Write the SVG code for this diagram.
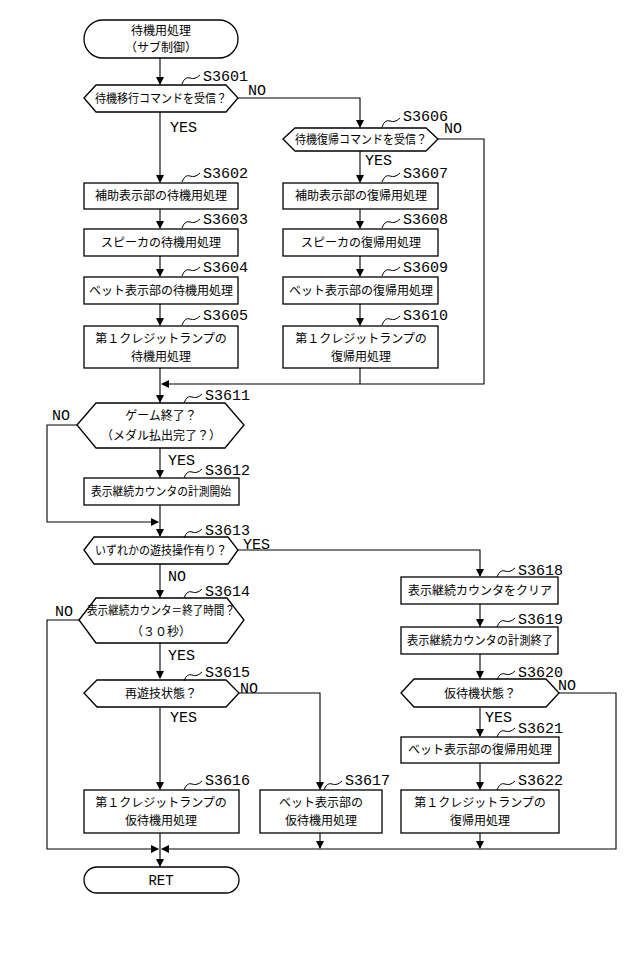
<svg xmlns="http://www.w3.org/2000/svg" width="638" height="969" viewBox="0 0 638 969">
<style>
.s{fill:#fff;stroke:#000;stroke-width:1.3}
.c{fill:none;stroke:#000;stroke-width:1.1}
.t{font-family:"Noto Sans CJK JP",sans-serif;font-size:12px;text-anchor:middle}
.l{font-family:"Liberation Mono",monospace;font-size:15px}
.q{fill:none;stroke:#000;stroke-width:1}
</style>
<defs><marker id="a" markerWidth="8" markerHeight="8" refX="7" refY="4" orient="auto" markerUnits="userSpaceOnUse"><path d="M0,0L8,4L0,8z" fill="#000"/></marker></defs>
<rect width="638" height="969" fill="#fff"/>
<g id="connectors">
<path class="c" d="M160,58V84" marker-end="url(#a)"/>
<path class="c" d="M160,112V182" marker-end="url(#a)"/>
<path class="c" d="M238,98H360V127" marker-end="url(#a)"/>
<path class="c" d="M360,151V182" marker-end="url(#a)"/>
<path class="c" d="M438,139H484V384H162" marker-end="url(#a)"/>
<path class="c" d="M160,209V228" marker-end="url(#a)"/><path class="c" d="M360,209V228" marker-end="url(#a)"/>
<path class="c" d="M160,256V276" marker-end="url(#a)"/><path class="c" d="M360,256V276" marker-end="url(#a)"/>
<path class="c" d="M160,304V325" marker-end="url(#a)"/><path class="c" d="M360,304V325" marker-end="url(#a)"/>
<path class="c" d="M160,368V402" marker-end="url(#a)"/>
<path class="c" d="M360,368V384"/>
<path class="c" d="M160,448V477" marker-end="url(#a)"/>
<path class="c" d="M77,425H47V522H158" marker-end="url(#a)"/>
<path class="c" d="M160,505V536" marker-end="url(#a)"/>
<path class="c" d="M238,550H480V576" marker-end="url(#a)"/>
<path class="c" d="M160,564V597" marker-end="url(#a)"/>
<path class="c" d="M480,604V626" marker-end="url(#a)"/>
<path class="c" d="M480,654V678" marker-end="url(#a)"/>
<path class="c" d="M480,708V736" marker-end="url(#a)"/>
<path class="c" d="M480,763V789" marker-end="url(#a)"/>
<path class="c" d="M559,693H616V849H162" marker-end="url(#a)"/>
<path class="c" d="M160,643V678" marker-end="url(#a)"/>
<path class="c" d="M79,620H47V849H158" marker-end="url(#a)"/>
<path class="c" d="M160,708V789" marker-end="url(#a)"/>
<path class="c" d="M239,693H320V789" marker-end="url(#a)"/>
<path class="c" d="M160,833V849"/>
<path class="c" d="M320,833V848" marker-end="url(#a)"/>
<path class="c" d="M480,833V848" marker-end="url(#a)"/>
<path class="c" d="M160,849V866" marker-end="url(#a)"/>
</g>
<g id="start"><rect class="s" x="84" y="20" width="154" height="38" rx="19"/><text class="t" x="161" y="35">待機用処理</text><text class="t" x="161" y="52">（サブ制御）</text></g>
<g id="S3601"><path class="s" d="M84,98L96,85H226L238,98L226,112H96Z"/><text class="t" x="161" y="103" textLength="132" lengthAdjust="spacingAndGlyphs">待機移行コマンドを受信？</text></g>
<g id="S3606"><path class="s" d="M283,139L295,128H426L438,139L426,151H295Z"/><text class="t" x="361" y="144" textLength="132" lengthAdjust="spacingAndGlyphs">待機復帰コマンドを受信？</text></g>
<g id="S3602"><rect class="s" x="84" y="183" width="154" height="26"/><text class="t" x="161" y="200">補助表示部の待機用処理</text></g>
<g id="S3603"><rect class="s" x="84" y="229" width="154" height="27"/><text class="t" x="161" y="247">スピーカの待機用処理</text></g>
<g id="S3604"><rect class="s" x="84" y="277" width="154" height="27"/><text class="t" x="161" y="295">ベット表示部の待機用処理</text></g>
<g id="S3605"><rect class="s" x="84" y="326" width="154" height="42"/><text class="t" x="161" y="343">第１クレジットランプの</text><text class="t" x="161" y="361">待機用処理</text></g>
<g id="S3607"><rect class="s" x="283" y="183" width="155" height="26"/><text class="t" x="361" y="200">補助表示部の復帰用処理</text></g>
<g id="S3608"><rect class="s" x="283" y="229" width="155" height="27"/><text class="t" x="361" y="247">スピーカの復帰用処理</text></g>
<g id="S3609"><rect class="s" x="283" y="277" width="155" height="27"/><text class="t" x="361" y="295">ベット表示部の復帰用処理</text></g>
<g id="S3610"><rect class="s" x="283" y="326" width="155" height="42"/><text class="t" x="361" y="343">第１クレジットランプの</text><text class="t" x="361" y="361">復帰用処理</text></g>
<g id="S3611"><path class="s" d="M77,425L96,403H225L244,425L225,448H96Z"/><text class="t" x="161" y="420">ゲーム終了？</text><text class="t" x="161" y="440">（メダル払出完了？）</text></g>
<g id="S3612"><rect class="s" x="84" y="478" width="155" height="27"/><text class="t" x="161" y="496" textLength="140" lengthAdjust="spacingAndGlyphs">表示継続カウンタの計測開始</text></g>
<g id="S3613"><path class="s" d="M84,550L94,537H228L238,550L228,564H94Z"/><text class="t" x="161" y="555" textLength="132" lengthAdjust="spacingAndGlyphs">いずれかの遊技操作有り？</text></g>
<g id="S3614"><path class="s" d="M79,620L96,598H227L244,620L227,643H96Z"/><text class="t" x="161" y="615" textLength="148" lengthAdjust="spacingAndGlyphs">表示継続カウンタ＝終了時間？</text><text class="t" x="161" y="636">（３０秒）</text></g>
<g id="S3615"><path class="s" d="M84,693L97,680H226L239,693L226,707H97Z"/><text class="t" x="161" y="698">再遊技状態？</text></g>
<g id="S3616"><rect class="s" x="84" y="790" width="155" height="43"/><text class="t" x="161" y="807">第１クレジットランプの</text><text class="t" x="161" y="825">仮待機用処理</text></g>
<g id="S3617"><rect class="s" x="260" y="790" width="122" height="43"/><text class="t" x="321" y="807">ベット表示部の</text><text class="t" x="321" y="825">仮待機用処理</text></g>
<g id="S3618"><rect class="s" x="401" y="577" width="157" height="27"/><text class="t" x="480" y="595">表示継続カウンタをクリア</text></g>
<g id="S3619"><rect class="s" x="401" y="627" width="157" height="27"/><text class="t" x="480" y="645" textLength="146" lengthAdjust="spacingAndGlyphs">表示継続カウンタの計測終了</text></g>
<g id="S3620"><path class="s" d="M401,693L414,679H546L559,693L546,707H414Z"/><text class="t" x="480" y="698">仮待機状態？</text></g>
<g id="S3621"><rect class="s" x="401" y="737" width="158" height="26"/><text class="t" x="480" y="754">ベット表示部の復帰用処理</text></g>
<g id="S3622"><rect class="s" x="401" y="790" width="158" height="43"/><text class="t" x="480" y="807">第１クレジットランプの</text><text class="t" x="480" y="825">復帰用処理</text></g>
<g id="end"><rect class="s" x="84" y="867" width="155" height="26" rx="13"/><text class="t" x="161" y="885" style="font-family:'Liberation Mono',monospace;font-size:14px">RET</text></g>
<g id="labels">
<g class="l">
<text x="203" y="81">S3601</text><text x="248" y="95">NO</text><text x="170" y="132">YES</text>
<text x="403" y="121">S3606</text><text x="444" y="133">NO</text><text x="365" y="165">YES</text>
<text x="203" y="178">S3602</text><text x="403" y="178">S3607</text>
<text x="203" y="224">S3603</text><text x="403" y="224">S3608</text>
<text x="203" y="272">S3604</text><text x="403" y="272">S3609</text>
<text x="203" y="320">S3605</text><text x="403" y="320">S3610</text>
<text x="205" y="400">S3611</text><text x="52" y="420">NO</text><text x="168" y="465">YES</text>
<text x="205" y="475">S3612</text><text x="205" y="535">S3613</text><text x="243" y="549">YES</text>
<text x="168" y="581">NO</text><text x="205" y="596">S3614</text><text x="55" y="616">NO</text>
<text x="168" y="660">YES</text><text x="205" y="677">S3615</text><text x="240" y="693">NO</text>
<text x="170" y="722">YES</text><text x="518" y="575">S3618</text><text x="518" y="624">S3619</text>
<text x="518" y="677">S3620</text><text x="558" y="690">NO</text><text x="485" y="722">YES</text>
<text x="518" y="733">S3621</text><text x="205" y="785">S3616</text><text x="345" y="785">S3617</text><text x="518" y="785">S3622</text>
</g>
<g class="q">
<path d="M182,84q3,-8 8,-6t10,-3"/><path d="M382,127q3,-8 8,-6t10,-3"/>
<path d="M182,182q3,-8 8,-6t10,-3"/><path d="M382,182q3,-8 8,-6t10,-3"/>
<path d="M182,228q3,-8 8,-6t10,-3"/><path d="M382,228q3,-8 8,-6t10,-3"/>
<path d="M182,276q3,-8 8,-6t10,-3"/><path d="M382,276q3,-8 8,-6t10,-3"/>
<path d="M182,325q3,-8 8,-6t10,-3"/><path d="M382,325q3,-8 8,-6t10,-3"/>
<path d="M184,403q3,-8 8,-6t10,-3"/><path d="M184,478q3,-8 8,-6t10,-3"/>
<path d="M184,538q3,-8 8,-6t10,-3"/><path d="M184,598q3,-8 8,-6t10,-3"/>
<path d="M184,681q3,-8 8,-6t10,-3"/><path d="M497,577q3,-8 8,-6t10,-3"/>
<path d="M497,627q3,-8 8,-6t10,-3"/><path d="M497,680q3,-8 8,-6t10,-3"/>
<path d="M497,737q3,-8 8,-6t10,-3"/><path d="M184,790q3,-8 8,-6t10,-3"/>
<path d="M324,790q3,-8 8,-6t10,-3"/><path d="M497,790q3,-8 8,-6t10,-3"/>
</g>
</g>
</svg>
